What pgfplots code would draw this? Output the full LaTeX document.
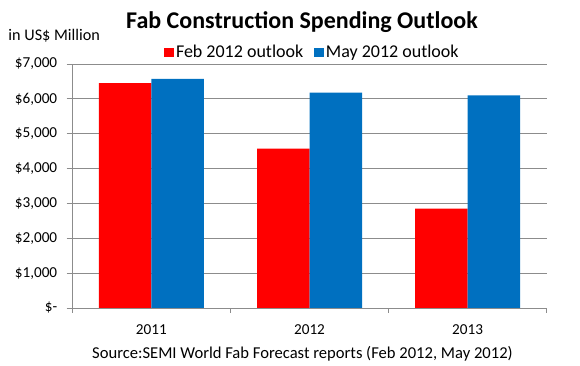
\documentclass[border=0pt]{standalone}
\usepackage{fontspec}
\setmainfont{Carlito}
\usepackage{pgfplots}
\pgfplotsset{compat=1.18}
\definecolor{febred}{RGB}{255,0,0}
\definecolor{mayblue}{RGB}{0,112,192}
\definecolor{gridgray}{RGB}{140,140,140}
\begin{document}
\begin{tikzpicture}[x=1pt,y=1pt]
\useasboundingbox (0,0) rectangle (580,366);
\begin{axis}[
  at={(72.3pt,58pt)}, anchor=south west, scale only axis,
  width=474.4pt, height=244pt,
  ybar=0pt, bar width=52.5pt,
  xmin=-0.5, xmax=2.5, ymin=0, ymax=7000,
  axis x line=bottom, axis y line=left,
  axis line style={gridgray, -, line width=0.8pt},
  xtick={0,1,2}, xticklabels={2011,2012,2013},
  minor xtick={-0.5,0.5,1.5,2.5},
  major x tick style={draw=none},
  minor x tick style={gridgray, line width=0.8pt},
  ytick={0,1000,2000,3000,4000,5000,6000,7000},
  yticklabels={{\$-\hspace{5pt}},{\$1,000},{\$2,000},{\$3,000},{\$4,000},{\$5,000},{\$6,000},{\$7,000}},
  y tick style={gridgray, line width=0.8pt},
  ymajorgrids, grid style={gridgray, line width=0.8pt},
  tick align=outside, major tick length=5.6pt, minor tick length=5pt,
  yticklabel style={font=\fontsize{15.2}{18}\selectfont, text=black, xshift=-6pt},
  xticklabel style={font=\fontsize{15.2}{18}\selectfont, text=black, yshift=-7.5pt},
  legend style={at={(axis description cs:0.506,1.049)}, anchor=center, draw=none,
    fill=none, font=\fontsize{18}{21}\selectfont,
    nodes={inner sep=2.3pt},
    /tikz/every even column/.append style={column sep=8pt}},
  legend columns=2,
  legend image code/.code={\path[#1,draw=none] (0pt,-4.5pt) rectangle (10pt,4.5pt);},
]
\addplot[fill=febred, draw=none] coordinates {(0,6450) (1,4570) (2,2850)};
\addlegendentry{Feb 2012 outlook}
\addplot[fill=mayblue, draw=none] coordinates {(0,6570) (1,6180) (2,6100)};
\addlegendentry{May 2012 outlook}
\end{axis}
\node[anchor=base west, font=\fontsize{24}{28}\selectfont\bfseries, inner sep=0pt] at (126,337.5) {Fab Construction Spending Outlook};
\node[anchor=base west, font=\fontsize{16.2}{19}\selectfont, inner sep=0pt] at (8.3,325.3) {in US\$ Million};
\node[anchor=base west, font=\fontsize{16.6}{19}\selectfont, inner sep=0pt] at (92,7.7) {Source:SEMI World Fab Forecast reports (Feb 2012, May 2012)};
\end{tikzpicture}
\end{document}
